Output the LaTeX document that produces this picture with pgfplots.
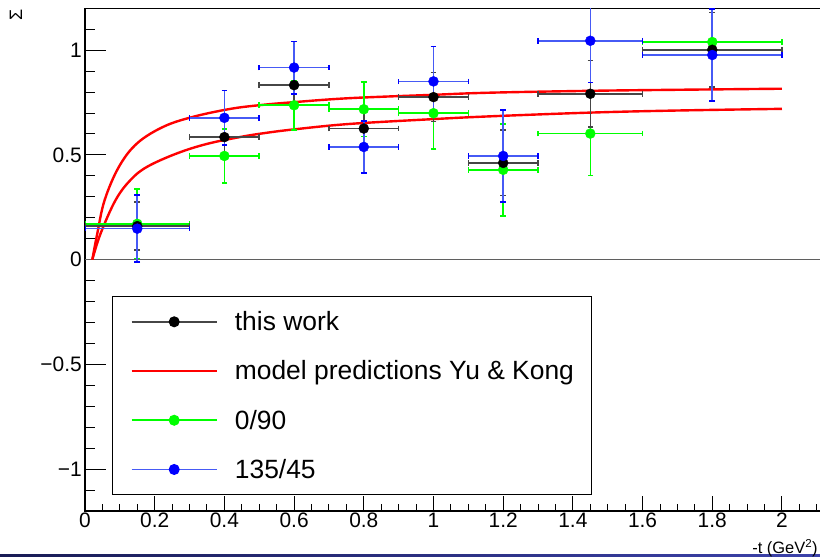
\documentclass[border=0pt]{standalone}
\usepackage{fontspec}
\setmainfont{Liberation Sans}
\usepackage{pgfplots}
\pgfplotsset{compat=1.18}
\usepackage{pgfplotstable}
\definecolor{rgreen}{RGB}{0,255,0}
\definecolor{rblue}{RGB}{0,0,255}
\definecolor{rblueb}{RGB}{70,90,245}
\definecolor{rred}{RGB}{255,0,0}
\definecolor{barblack}{RGB}{70,70,70}
\definecolor{zeroline}{RGB}{95,95,95}
\definecolor{navyA}{RGB}{25,28,85}
\definecolor{navyB}{RGB}{60,66,170}

\pgfplotstableread{
x y ex ey
0.15 0.160 0.15 0.114
0.40 0.585 0.10 0.090
0.60 0.833 0.10 0.090
0.80 0.626 0.10 0.090
1.00 0.776 0.10 0.117
1.20 0.462 0.10 0.156
1.45 0.792 0.15 0.158
1.80 1.002 0.20 0.177
}\thiswork

\pgfplotstableread{
x y ex ey
0.15 0.171 0.15 0.165
0.40 0.495 0.10 0.128
0.60 0.737 0.10 0.117
0.80 0.718 0.10 0.130
1.00 0.699 0.10 0.170
1.20 0.429 0.10 0.220
1.45 0.602 0.15 0.200
1.80 1.039 0.20 0.280
}\greenset

\pgfplotstableread{
x y ex ey
0.15 0.148 0.15 0.160
0.40 0.677 0.10 0.130
0.60 0.917 0.10 0.125
0.80 0.538 0.10 0.124
1.00 0.851 0.10 0.167
1.20 0.495 0.10 0.220
1.45 1.045 0.15 0.200
1.80 0.977 0.20 0.220
}\blueset

\pgfplotstableread{
x y
0.021 0.000
0.0354 0.126
0.0565 0.285
0.0976 0.444
0.150 0.556
0.227 0.636
0.313 0.683
0.418 0.720
0.504 0.738
0.600 0.752
0.760 0.771
1.000 0.787
1.160 0.797
1.450 0.806
1.700 0.811
2.000 0.816
}\modelup

\pgfplotstableread{
x y
0.021 0.000
0.045 0.126
0.088 0.285
0.131 0.381
0.179 0.444
0.265 0.508
0.351 0.553
0.447 0.586
0.514 0.604
0.600 0.622
0.760 0.648
1.000 0.671
1.160 0.684
1.450 0.702
1.700 0.712
2.000 0.720
}\modellow

\begin{document}
\begin{tikzpicture}
\useasboundingbox (0,0) rectangle (820bp,557bp);
\clip (0,0) rectangle (820bp,557bp);
\shade[left color=navyA, right color=navyB] (0,0) rectangle (820bp,2bp);

% axis with data, frame and y ticks
\begin{axis}[
  at={(85bp,46bp)}, anchor=south west,
  scale only axis, width=738.8bp, height=502.7bp,
  xmin=0, xmax=2.12, ymin=-1.2, ymax=1.2,
  xtick=\empty,
  ytick={-1,-0.5,0,0.5,1},
  yticklabels={−1,−0.5,0,0.5,1},
  minor ytick={-1.2,-1.1,-0.9,-0.8,-0.7,-0.6,-0.4,-0.3,-0.2,-0.1,0.1,0.2,0.3,0.4,0.6,0.7,0.8,0.9,1.1,1.2},
  ytick pos=left,
  tick align=inside,
  major tick length=21bp, minor tick length=10.5bp,
  tick style={black, line width=1bp},
  axis line style={line width=1.3bp},
  yticklabel style={font=\fontsize{21}{21}\selectfont, inner sep=0pt, anchor=east, xshift=-3bp},
  ylabel={Σ},
  ylabel style={at={(axis description cs:-0.0934,0.9867)}, anchor=center, inner sep=0pt, font=\fontsize{18}{18}\selectfont},
  legend cell align=left,
  legend style={at={(axis description cs:0.03655,0.4277)}, anchor=north west,
    draw=black, line width=1bp, fill=white,
    inner xsep=18bp, inner ysep=15bp, row sep=28.6bp, column sep=17bp,
    font=\fontsize{26.5}{26.5}\selectfont,
    nodes={inner sep=0pt}},
]
\addlegendimage{legend image code/.code={
  \draw[barblack, line width=1.6bp] (0bp,0bp) -- (85bp,0bp);
  \draw[black, mark=*, mark size=5bp, mark options={fill=black, draw=black}, mark repeat=2, mark phase=2, draw=none] plot coordinates {(0bp,0bp) (42.5bp,0bp) (85bp,0bp)};}}
\addlegendentry{\rule[-6bp]{0pt}{25bp}this work}
\addlegendimage{legend image code/.code={
  \draw[rred, line width=2.4bp] (0bp,0bp) -- (85bp,0bp);}}
\addlegendentry{\rule[-6bp]{0pt}{25bp}model predictions Yu \& Kong\hspace{8bp}}
\addlegendimage{legend image code/.code={
  \draw[rgreen, line width=1.6bp] (0bp,0bp) -- (85bp,0bp);
  \draw[rgreen, mark=*, mark size=5bp, mark options={fill=rgreen, draw=rgreen}, mark repeat=2, mark phase=2, draw=none] plot coordinates {(0bp,0bp) (42.5bp,0bp) (85bp,0bp)};}}
\addlegendentry{\rule[-6bp]{0pt}{25bp}0/90}
\addlegendimage{legend image code/.code={
  \draw[rblueb, line width=1.6bp] (0bp,0bp) -- (85bp,0bp);
  \draw[rblue, mark=*, mark size=5bp, mark options={fill=rblue, draw=rblue}, mark repeat=2, mark phase=2, draw=none] plot coordinates {(0bp,0bp) (42.5bp,0bp) (85bp,0bp)};}}
\addlegendentry{\rule[-6bp]{0pt}{25bp}135/45}

\addplot[forget plot, zeroline, line width=1.4bp] coordinates {(0,0) (2.12,0)};

\addplot[forget plot, rred, line width=2.4bp, smooth, tension=0.6] table[x=x, y=y] {\modelup};
\addplot[forget plot, rred, line width=2.4bp, smooth, tension=0.6] table[x=x, y=y] {\modellow};

\addplot[forget plot, only marks, mark=*, mark size=5bp, mark options={fill=rgreen, draw=rgreen}, rgreen,
  error bars/.cd, x dir=both, x explicit, y dir=both, y explicit,
  error bar style={line width=1.6bp, color=rgreen},
  error mark options={rotate=90, line width=1.6bp, mark size=2.8bp, color=rgreen}]
  table[x=x, y=y, x error=ex, y error=ey] {\greenset};

\addplot[forget plot, only marks, mark=*, mark size=5bp, mark options={fill=black, draw=black}, black,
  error bars/.cd, x dir=both, x explicit, y dir=both, y explicit,
  error bar style={line width=1.6bp, color=barblack},
  error mark options={rotate=90, line width=1.6bp, mark size=2.8bp, color=barblack}]
  table[x=x, y=y, x error=ex, y error=ey] {\thiswork};

\addplot[forget plot, only marks, mark=*, mark size=5bp, mark options={fill=rblue, draw=rblue}, rblue,
  error bars/.cd, x dir=both, x explicit, y dir=both, y explicit,
  error bar style={line width=1.6bp, color=rblueb},
  error mark options={rotate=90, line width=1.6bp, mark size=2.8bp, color=rblue}]
  table[x=x, y=y, x error=ex, y error=ey] {\blueset};
\end{axis}

% axis carrying only the x ticks and labels
\begin{axis}[
  at={(85bp,46bp)}, anchor=south west,
  scale only axis, width=738.8bp, height=502.7bp,
  xmin=0, xmax=2.12, ymin=-1.2, ymax=1.2,
  axis line style={draw=none},
  ytick=\empty,
  xtick={0,0.2,0.4,0.6,0.8,1,1.2,1.4,1.6,1.8,2},
  xticklabels={0,0.2,0.4,0.6,0.8,1,1.2,1.4,1.6,1.8,2},
  minor xtick={0.05,0.1,0.15,0.25,0.3,0.35,0.45,0.5,0.55,0.65,0.7,0.75,0.85,0.9,0.95,1.05,1.1,1.15,1.25,1.3,1.35,1.45,1.5,1.55,1.65,1.7,1.75,1.85,1.9,1.95,2.05,2.1},
  xtick pos=left,
  tick align=inside,
  major tick length=14.7bp, minor tick length=7.3bp,
  tick style={black, line width=1bp},
  xticklabel style={font=\fontsize{21}{21}\selectfont, inner sep=0pt, anchor=north, yshift=-1.7bp},
  xlabel={-t (GeV\textsuperscript{2})},
  xlabel style={at={(axis description cs:0.992,-0.0736)}, anchor=east, inner sep=0pt, font=\fontsize{16.5}{16.5}\selectfont},
]
\end{axis}
\end{tikzpicture}
\end{document}
